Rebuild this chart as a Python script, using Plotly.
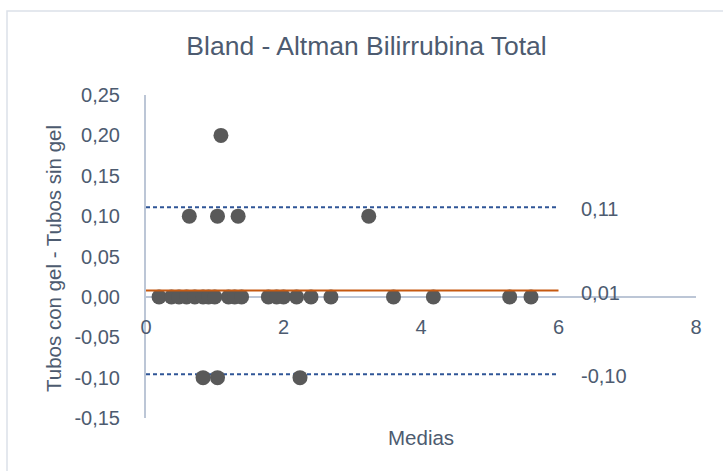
import plotly.graph_objects as go

# ---- data ----
medias = [0.19, 0.37, 0.48, 0.59, 0.71, 0.83, 0.91, 1.00, 1.20, 1.29, 1.39,
          1.78, 1.90, 2.00, 2.19, 2.40, 2.69, 3.60, 4.18, 5.29, 5.60,
          0.63, 1.04, 1.34, 3.24,
          1.09,
          0.83, 1.04, 2.24]
diferencias = [0.0] * 21 + [0.10, 0.10, 0.10, 0.10] + [0.20] + [-0.10, -0.10, -0.10]

media_dif = 0.0078
limite_sup = 0.111
limite_inf = -0.0957
lineas_x = [0, 6]
etiquetas_lineas = ["0,11", "0,01", "-0,10"]

y_ticks = [0.25, 0.20, 0.15, 0.10, 0.05, 0.00, -0.05, -0.10, -0.15]
y_ticktext = ["0,25", "0,20", "0,15", "0,10", "0,05", "0,00", "-0,05", "-0,10", "-0,15"]
x_ticks = [0, 2, 4, 6, 8]
x_ticktext = ["0", "2", "4", "6", "8"]

TXT = "#4D5B70"
FONT = "Liberation Sans, Arial, sans-serif"
AXC = "#BCC6D6"

W, H = 723, 471
ML, MR, MT, MB = 146, 27, 95, 53
plot_h = H - MT - MB
y_rng = [-0.15, 0.25]
x_pos = (0 - y_rng[0]) / (y_rng[1] - y_rng[0])

fig = go.Figure()

# dashed limit lines
for v in (limite_sup, limite_inf):
    fig.add_trace(go.Scatter(x=lineas_x, y=[v, v], mode="lines",
                             line=dict(color="#2F5597", width=2, dash="4px,3px"),
                             hoverinfo="skip", showlegend=False))

fig.add_trace(go.Scatter(x=medias, y=diferencias, mode="markers",
                         marker=dict(size=15, color="#595959", line=dict(width=0)),
                         showlegend=False))

fig.add_trace(go.Scatter(x=lineas_x, y=[media_dif, media_dif], mode="lines",
                         line=dict(color="#C65911", width=2),
                         hoverinfo="skip", showlegend=False))

fig.update_layout(
    width=W, height=H,
    margin=dict(l=ML, r=MR, t=MT, b=MB),
    paper_bgcolor="white", plot_bgcolor="white",
    font=dict(family=FONT, color=TXT, size=20),
    title=dict(text="Bland - Altman Bilirrubina Total", x=0.507, xanchor="center",
               y=1 - 46 / H, yanchor="middle",
               font=dict(family=FONT, size=26.5, color=TXT)),
    xaxis=dict(range=[0, 8], tickvals=x_ticks, ticktext=x_ticktext,
               anchor="free", position=x_pos, showline=False, showgrid=False,
               zeroline=False, ticks="", ticklabelstandoff=16,
               tickfont=dict(size=20, color=TXT)),
    yaxis=dict(range=y_rng, tickvals=y_ticks, ticktext=y_ticktext,
               showgrid=False, showline=True, linecolor=AXC, linewidth=2,
               zeroline=True, zerolinecolor=AXC, zerolinewidth=2,
               ticks="", ticklabelstandoff=20,
               tickfont=dict(size=20, color=TXT)),
    shapes=[dict(type="rect", xref="paper", yref="paper",
                 x0=(7 - ML) / (W - ML - MR), x1=(735 - ML) / (W - ML - MR),
                 y0=-(485 - (H - MB)) / plot_h, y1=(H - MB - 11) / plot_h,
                 line=dict(color="#DCE1E9", width=1.5), layer="below")],
    annotations=[
        dict(text="Tubos con gel - Tubos sin gel", xref="paper", yref="paper",
             x=(53 - ML) / (W - ML - MR), y=(H - MB - 259) / plot_h,
             textangle=-90, showarrow=False, xanchor="center", yanchor="middle",
             font=dict(size=20.5, color=TXT)),
        dict(text="Medias", xref="paper", yref="paper",
             x=(421 - ML) / (W - ML - MR), y=-(437 - (H - MB)) / plot_h,
             showarrow=False, xanchor="center", yanchor="middle",
             font=dict(size=20.5, color=TXT)),
    ] + [
        dict(text=t, x=6.30, y=v, xref="x", yref="y", showarrow=False,
             xanchor="left", yanchor="middle", yshift=-2,
             font=dict(size=20, color=TXT))
        for t, v in zip(etiquetas_lineas, [limite_sup, media_dif, limite_inf])
    ],
)

fig.write_html("out.html")
